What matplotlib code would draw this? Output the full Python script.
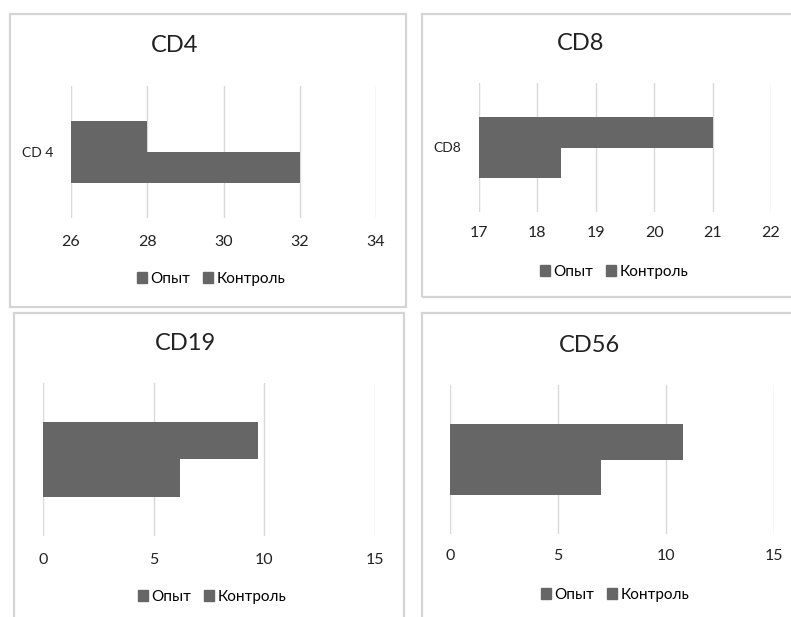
import matplotlib.pyplot as plt
from matplotlib.patches import Rectangle, Patch

W, H = 791, 617

categories = ["CD 4", "CD8", "CD19", "CD56"]
titles = ["CD4", "CD8", "CD19", "CD56"]
opyt = [32, 18.4, 6.2, 7.0]
kontrol = [28, 21, 9.7, 10.8]
xlims = [(26, 34), (17, 22), (0, 15), (0, 15)]
xticks = [[26, 28, 30, 32, 34], [17, 18, 19, 20, 21, 22], [0, 5, 10, 15], [0, 5, 10, 15]]
show_cat = [True, True, False, False]
series = ["Опыт", "Контроль"]

BAR = "#666666"
GRID = "#d9d9d9"
BORDER = "#d4d4d4"

# panel layout in pixels: frame box, plot area, title, legend
frames = [(10, 14, 406, 307), (422, 14, 800, 297), (14, 313, 404, 630), (422, 313, 800, 630)]
areas = [(71, 86, 376, 218), (479, 83, 771, 212), (43, 383, 375, 536), (450, 385, 774, 534)]
title_pos = [(175, 45), (581, 43), (185, 343), (589, 345)]
legend_pos = [(211, 279), (614, 272), (212, 597), (615, 595)]
bar_h = [0.235, 0.236, 0.245, 0.24]
pads = [12, 10, 12, 11]

plt.rcParams['font.family'] = ['Lato', 'DejaVu Sans']

fig = plt.figure(figsize=(W / 100, H / 100), dpi=100)


def fx(x):
    return x / W


def fy(y):
    return 1 - y / H


for i in range(4):
    x0, y0, x1, y1 = frames[i]
    fig.patches.append(Rectangle((fx(x0), fy(y1)), fx(x1 - x0), (y1 - y0) / H,
                                 transform=fig.transFigure, fill=False,
                                 edgecolor=BORDER, linewidth=1.6))

    ax0, ay0, ax1, ay1 = areas[i]
    ax = fig.add_axes([fx(ax0), fy(ay1), fx(ax1 - ax0), (ay1 - ay0) / H])
    h = bar_h[i]
    ax.barh([-h / 2], [opyt[i]], height=h, color=BAR, label=series[0])
    ax.barh([h / 2], [kontrol[i]], height=h, color=BAR, label=series[1])
    ax.set_xlim(*xlims[i])
    ax.set_ylim(-0.5, 0.5)
    ax.set_xticks(xticks[i])
    ax.grid(axis="x", color=GRID, linewidth=1.0)
    ax.set_axisbelow(True)
    for s in ax.spines.values():
        s.set_visible(False)
    ax.tick_params(axis="x", length=0, pad=pads[i], labelsize=11.5, labelcolor="#222222")
    if show_cat[i]:
        ax.set_yticks([0])
        ax.set_yticklabels([categories[i]])
        ax.tick_params(axis="y", length=0, pad=13, labelsize=10, labelcolor="#222222")
    else:
        ax.set_yticks([])

    tx, ty = title_pos[i]
    fig.text(fx(tx), fy(ty), titles[i], ha="center", va="center", fontsize=17,
             color="#222222")

    handles = [Patch(color=BAR), Patch(color=BAR)]
    lx, ly = legend_pos[i]
    fig.legend(handles, series, loc="center", bbox_to_anchor=(fx(lx), fy(ly)), ncol=2,
               frameon=False, fontsize=11, handlelength=0.7, handleheight=0.7,
               handletextpad=0.2, columnspacing=0.8, borderaxespad=0)

fig.savefig("out.png", dpi=100)
